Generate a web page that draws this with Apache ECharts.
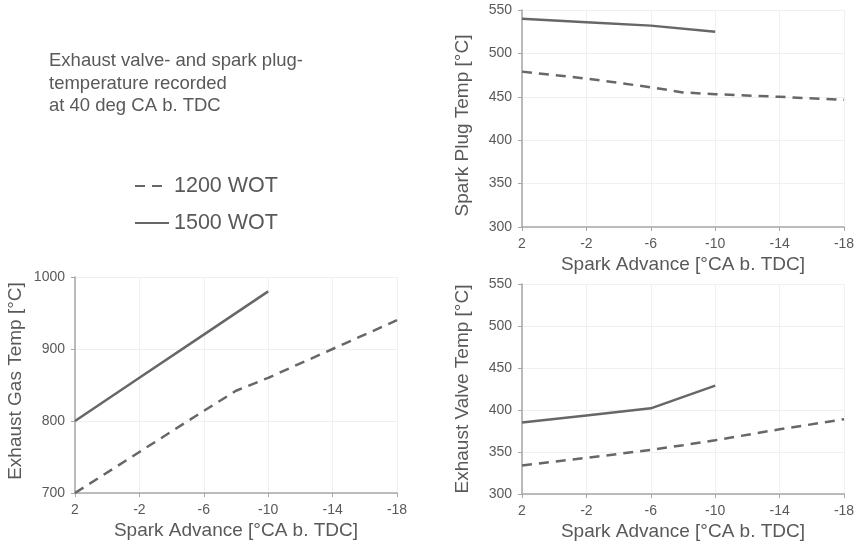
<!DOCTYPE html>
<html>
<head>
<meta charset="utf-8">
<script src="https://cdn.jsdelivr.net/npm/echarts@6/dist/echarts.min.js"></script>
<style>
html,body{margin:0;padding:0;background:#fff;}
#chart{width:858px;height:549px;}
</style>
</head>
<body>
<div id="chart"></div>
<script>
// ---- data ----
const xTickLabels = [2, -2, -6, -10, -14, -18];
const advance1200 = [2, -2, -6, -8, -10, -14, -18];
const advance1500 = [2, -2, -6, -10];
const plug1200 = [479, 471, 461, 455, 453, 450, 446.5];
const plug1500 = [540, 536, 532, 525];
const gas1200 = [700, 757, 814, 842, 860, 900, 940];
const gas1500 = [800, 860, 920, 980];
const valve1200 = [334, 343, 352.5, 358, 364, 377, 389];
const valve1500 = [385, 393.5, 402, 429];
const seriesNames = ['1200 WOT', '1500 WOT'];
const titleLines = ['Exhaust valve- and spark plug-', 'temperature recorded', 'at 40 deg CA b. TDC'];
const xName = 'Spark Advance [°CA b. TDC]';
const yNames = ['Spark Plug Temp [°C]', 'Exhaust Gas Temp [°C]', 'Exhaust Valve Temp [°C]'];

// x axis runs from 2 (left) to -18 (right); measured as distance from the first tick
const x0 = xTickLabels[0];
const xSpan = x0 - xTickLabels[xTickLabels.length - 1];
const xStep = xTickLabels[0] - xTickLabels[1];
const pair = (xs, ys) => xs.map((v, i) => [x0 - v, ys[i]]);

const FONT = 'Liberation Sans, Arial, sans-serif';
const TXT = '#595959';
const LINE = '#676767';
const AXIS = '#a6a6a6';
const GRIDC = '#f0f0f0';

function xAxis(gi) {
  return {
    type: 'value', gridIndex: gi, min: 0, max: xSpan, interval: xStep,
    name: xName, nameLocation: 'middle', nameGap: 28,
    nameTextStyle: {fontSize: 19, color: TXT, fontFamily: FONT},
    axisLine: {show: true, lineStyle: {color: AXIS, width: 1.5}},
    axisTick: {show: true, length: 4, lineStyle: {color: AXIS, width: 1}},
    axisLabel: {fontSize: 14, color: TXT, fontFamily: FONT, margin: 10,
      formatter: v => String(x0 - v)},
    splitLine: {show: true, lineStyle: {color: GRIDC, width: 1}}
  };
}
function yAxis(gi, min, max, interval, name, pad) {
  return {
    type: 'value', gridIndex: gi, min: min, max: max, interval: interval,
    name: name, nameLocation: 'middle', nameGap: 50, nameRotate: 90,
    nameTextStyle: {fontSize: 19, color: TXT, fontFamily: FONT, padding: pad},
    axisLine: {show: true, lineStyle: {color: AXIS, width: 1.5}},
    axisTick: {show: true, length: 4, lineStyle: {color: AXIS, width: 1}},
    axisLabel: {fontSize: 14, color: TXT, fontFamily: FONT, margin: 10,
      formatter: v => String(v)},
    splitLine: {show: true, lineStyle: {color: GRIDC, width: 1}}
  };
}
function line(name, gi, data, dashed) {
  return {
    name: name, type: 'line', xAxisIndex: gi, yAxisIndex: gi,
    data: data, symbol: 'none', smooth: false, silent: true,
    lineStyle: {color: LINE, width: 2.5, type: dashed ? [10, 7] : 'solid'},
    itemStyle: {color: LINE}
  };
}

const chart = echarts.init(document.getElementById('chart'), null, {renderer: 'canvas'});
chart.setOption({
  animation: false,
  backgroundColor: '#ffffff',
  title: {
    text: titleLines.join('\n'), left: 49, top: 50, padding: 0,
    textStyle: {fontSize: 18.5, lineHeight: 22.5, fontWeight: 'normal', color: TXT, fontFamily: FONT}
  },
  legend: {
    data: seriesNames, orient: 'vertical', left: 134, top: 175,
    itemWidth: 34, itemHeight: 14, itemGap: 15, padding: 0,
    itemStyle: {opacity: 0},
    lineStyle: {opacity: 1},
    textStyle: {fontSize: 21.5, lineHeight: 22, color: TXT, fontFamily: FONT},
    selectedMode: false
  },
  grid: [
    {left: 522, top: 10, width: 322, height: 217},
    {left: 75, top: 277, width: 322, height: 216},
    {left: 522, top: 284, width: 322, height: 210}
  ],
  xAxis: [xAxis(0), xAxis(1), xAxis(2)],
  yAxis: [
    yAxis(0, 300, 550, 50, yNames[0], [0, 14, 0, 0]),
    yAxis(1, 700, 1000, 100, yNames[1], [0, 0, 0, 8]),
    yAxis(2, 300, 550, 50, yNames[2], [0, 0, 0, 0])
  ],
  series: [
    line(seriesNames[0], 0, pair(advance1200, plug1200), true),
    line(seriesNames[1], 0, pair(advance1500, plug1500), false),
    line(seriesNames[0], 1, pair(advance1200, gas1200), true),
    line(seriesNames[1], 1, pair(advance1500, gas1500), false),
    line(seriesNames[0], 2, pair(advance1200, valve1200), true),
    line(seriesNames[1], 2, pair(advance1500, valve1500), false)
  ]
});
</script>
</body>
</html>
